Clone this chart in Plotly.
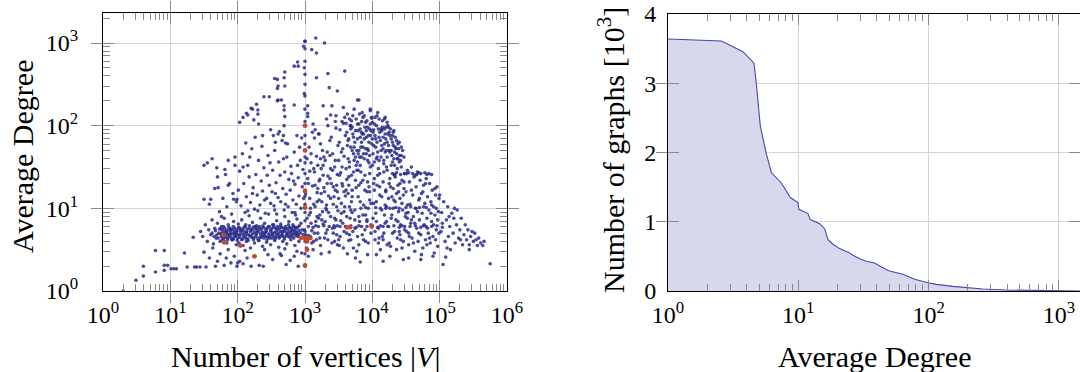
import plotly.graph_objects as go

# ---------------- data (log10 |V|, log10 average degree) ----------------
tail_pts = [(0.30,0.0),(0.49,0.13),(0.60,0.18),(0.60,0.30),(0.78,0.23),(0.78,0.49),(0.91,0.49),
            (0.91,0.31),(0.96,0.31),(0.91,0.25),(1.01,0.27),(1.05,0.27),(1.09,0.27),(1.21,0.46),
            (1.25,0.29),(1.36,0.29),(1.39,0.29),(1.44,0.29),(1.53,0.29),(1.34,0.65)]

left_cloud_pts = [(1.50,1.52),(1.55,1.55),(1.62,1.60),(1.58,1.05),(1.66,1.24),(1.70,1.38),(1.73,0.96),
                  (1.78,1.12),(1.81,1.47),(1.84,1.02),(1.88,1.30),(1.91,0.93),(1.93,1.18),(1.96,1.52),
                  (1.98,1.08),(1.69,1.49),(1.86,1.58),(1.76,0.90),(1.71,1.25),(1.86,1.28),(1.50,1.11),
                  (1.60,1.11),(1.96,1.62),(1.82,1.41),(1.94,1.11),(1.99,1.11),
                  (1.50,0.47),(1.58,0.40),(1.63,0.52),(1.70,0.36),(1.74,0.45),(1.80,0.31),(1.86,0.50),
                  (1.90,0.34),(1.95,0.42),(1.99,0.30),(1.67,0.30),(1.83,0.40)]

halo_pts = [(1.45,0.72),(1.48,0.66),(1.52,0.80),(1.55,0.60),(1.57,0.74),(1.60,0.68),(1.62,0.86),
            (1.64,0.57),(1.66,0.76),(1.68,0.64),(1.70,0.82),(1.72,0.70),(1.74,0.60),(1.76,0.78),
            (1.78,0.66),(1.80,0.88),(1.82,0.72),(1.84,0.58),(1.86,0.80),(1.88,0.68),(1.90,0.74),
            (1.92,0.62),(1.94,0.84),(1.96,0.70),(1.98,0.56),
            (2.02,0.58),(2.08,0.55),(2.13,0.60),(2.19,0.52),(2.25,0.58),(2.31,0.61),(2.37,0.54),
            (2.43,0.59),(2.49,0.56),(2.55,0.61),(2.61,0.53),(2.67,0.60),(2.73,0.57),(2.79,0.62),
            (2.85,0.55),(2.91,0.60),(2.11,0.49),(2.40,0.50),(2.70,0.51),(2.88,0.48),
            (2.01,0.81),(2.06,0.86),(2.12,0.80),(2.17,0.91),(2.22,0.83),(2.28,0.79),(2.34,0.88),
            (2.40,0.82),(2.46,0.93),(2.52,0.80),(2.58,0.85),(2.64,0.81),(2.70,0.90),(2.76,0.84),
            (2.82,0.80),(2.88,0.87),(2.94,0.82),(2.15,0.97),(2.55,0.98),(2.85,0.95),
            (2.00,0.34),(2.03,0.36),(2.08,0.33),(2.14,0.40),(2.20,0.30),(2.32,0.31),(2.38,0.30),
            (2.45,0.44),(2.52,0.38),(2.63,0.45),(2.65,0.43),(2.72,0.32),(2.78,0.37),(2.84,0.42),
            (2.90,0.30),(2.95,0.46)]

ribbon_pts = [(1.76,0.66),(1.77,0.71),(1.75,0.75),(1.79,0.63),(1.80,0.69),(1.78,0.74),(1.82,0.65),
              (1.83,0.70),(1.81,0.76),(1.85,0.62),(1.86,0.68),(1.84,0.73),(1.88,0.66),(1.89,0.72),
              (1.87,0.77),(1.91,0.64),(1.92,0.69),(1.90,0.75),(1.94,0.63),(1.95,0.71),(1.93,0.74),
              (1.97,0.67),(1.98,0.70),(1.96,0.76),(2.00,0.64),(2.01,0.68),(1.99,0.73),(2.03,0.65),
              (2.04,0.72),(2.02,0.77),(2.06,0.62),(2.07,0.69),(2.05,0.75),(2.09,0.66),(2.10,0.71),
              (2.08,0.74),(2.12,0.64),(2.13,0.70),(2.11,0.78),(2.15,0.63),(2.16,0.68),(2.14,0.75),
              (2.18,0.67),(2.19,0.72),(2.17,0.76),(2.21,0.65),(2.22,0.69),(2.20,0.74),(2.24,0.64),
              (2.25,0.71),(2.23,0.77),(2.27,0.66),(2.28,0.70),(2.26,0.75),(2.30,0.63),(2.31,0.72),
              (2.29,0.76),(2.33,0.65),(2.34,0.69),(2.32,0.78),(2.36,0.67),(2.37,0.71),(2.35,0.74),
              (2.39,0.64),(2.40,0.70),(2.38,0.77),(2.42,0.66),(2.43,0.73),(2.41,0.75),(2.45,0.65),
              (2.46,0.69),(2.44,0.76),(2.48,0.67),(2.49,0.72),(2.47,0.78),(2.51,0.64),(2.52,0.70),
              (2.50,0.75),(2.54,0.66),(2.55,0.71),(2.53,0.77),(2.57,0.65),(2.58,0.73),(2.56,0.76),
              (2.60,0.67),(2.61,0.70),(2.59,0.78),(2.63,0.66),(2.64,0.72),(2.62,0.75),(2.66,0.68),
              (2.67,0.71),(2.65,0.77),(2.69,0.65),(2.70,0.73),(2.68,0.76),(2.72,0.67),(2.73,0.70),
              (2.71,0.78),(2.75,0.66),(2.76,0.72),(2.74,0.75),(2.78,0.68),(2.79,0.71),(2.77,0.77),
              (2.81,0.66),(2.82,0.73),(2.80,0.76),(2.84,0.69),(2.85,0.72),(2.83,0.78),(2.87,0.67),
              (2.88,0.70),(2.86,0.75),(2.90,0.68),(2.91,0.73),(2.89,0.77)]

ribbon_extra_pts = [(1.62,0.70),(1.65,0.66),(1.67,0.73),(1.69,0.68),(1.71,0.64),(1.73,0.75),(1.75,0.69),
                    (1.77,0.62),(1.79,0.78),(1.81,0.67),(1.835,0.71),(1.855,0.64),(1.875,0.75),(1.895,0.69),
                    (1.915,0.62),(1.935,0.78),(1.955,0.66),(1.975,0.72),(1.995,0.61),(2.015,0.76),(2.035,0.68),
                    (2.055,0.73),(2.075,0.63),(2.095,0.77),(2.115,0.67),(2.135,0.72),(2.155,0.61),(2.175,0.79),
                    (2.195,0.66),(2.215,0.74),(2.235,0.62),(2.255,0.78),(2.275,0.68),(2.295,0.73),(2.315,0.61),
                    (2.335,0.76),(2.355,0.65),(2.375,0.79),(2.395,0.67),(2.415,0.71),(2.435,0.62),(2.455,0.78),
                    (2.475,0.64),(2.495,0.74),(2.515,0.68),(2.535,0.80),(2.555,0.63),(2.575,0.69),(2.595,0.75),
                    (2.615,0.64),(2.635,0.79),(2.655,0.67),(2.675,0.72),(2.695,0.63),(2.715,0.76),(2.735,0.69),
                    (2.755,0.80),(2.775,0.65),(2.795,0.74),(2.815,0.69),(2.835,0.64),(2.855,0.77),(2.875,0.71),
                    (2.895,0.66),(2.915,0.79),(2.935,0.70),(2.955,0.74),(2.975,0.68)]

mid_cloud_pts = [(2.01,1.22),(2.03,1.45),(2.05,1.03),(2.07,1.66),(2.09,1.30),(2.11,0.95),(2.13,1.14),
                 (2.15,1.52),(2.17,1.38),(2.19,1.07),(2.21,1.72),(2.23,1.25),(2.25,0.99),(2.27,1.41),
                 (2.29,1.16),(2.31,1.58),(2.33,1.04),(2.35,1.33),(2.37,1.21),(2.39,1.49),(2.41,0.94),
                 (2.43,1.12),(2.45,1.64),(2.47,1.28),(2.49,1.06),(2.12,1.79),(2.26,1.86),(2.36,1.75),
                 (2.44,1.40),(2.18,1.62),(2.30,0.97),(2.40,1.10),(2.08,1.50),(2.48,1.55),(2.22,1.18),
                 (2.51,1.20),(2.52,1.46),(2.54,1.03),(2.55,1.70),(2.57,1.31),(2.58,0.93),(2.60,1.13),
                 (2.61,1.56),(2.63,1.40),(2.64,1.08),(2.66,1.82),(2.67,1.24),(2.69,0.98),(2.70,1.44),
                 (2.72,1.17),(2.73,1.62),(2.75,1.02),(2.76,1.35),(2.78,1.22),(2.79,1.51),(2.81,0.95),
                 (2.82,1.10),(2.84,1.68),(2.85,1.29),(2.87,1.05),(2.88,1.88),(2.90,1.37),(2.91,1.15),
                 (2.93,1.58),(2.94,1.00),(2.96,1.26),(2.97,1.47),(2.53,1.88),(2.62,1.93),(2.68,1.60),
                 (2.74,1.78),(2.80,1.42),(2.86,0.92),(2.92,1.74),(2.98,1.12),(2.56,1.18),(2.71,1.05),
                 (2.83,1.33),(2.89,1.52),(2.95,1.85)]

col_1000_pts = [(3.0,0.30),(3.0,0.45),(3.0,0.60),(3.0,0.72),(3.0,0.85),(3.0,0.95),(3.0,1.05),(3.0,1.15),
                (3.0,1.30),(3.0,1.42),(3.0,1.55),(3.0,1.62),(3.0,1.78),(3.0,1.88),(3.0,2.05),(3.0,2.20),
                (3.0,2.36),(3.0,2.50),(3.0,2.62),(3.0,2.78),(3.0,2.93),(3.0,3.02),(3.01,0.68),(2.99,0.74)]

top_pts = [(3.16,3.06),(3.29,3.00),(3.00,3.02),(2.98,2.96),(3.10,2.92),(3.17,2.88),(2.89,2.77),
           (2.84,2.72),(2.90,2.72),(2.99,2.70),(3.17,2.58),(2.55,2.57),(2.59,2.56),(2.69,2.58),
           (2.70,2.65),(2.60,2.48),(2.59,2.45),(2.70,2.48),(3.59,2.66),(3.34,2.63),(2.99,2.39),
           (3.36,2.46),(3.48,2.42),(2.39,2.35),(2.47,2.35),(2.65,2.31),(2.59,2.30),(2.69,2.24),
           (2.69,2.19),(3.04,2.24),(3.27,2.24),(3.40,2.24),(3.80,2.31),(2.28,2.26),(2.30,2.19),
           (2.30,2.14),(2.20,2.21),(2.13,2.15),(2.08,2.10),(2.03,2.04),(2.24,2.07),(2.70,2.11),
           (3.04,2.11),(3.97,2.20),(3.99,2.09),(3.38,2.13),(3.57,2.03),(3.45,2.05),(3.84,2.05),
           (2.60,2.31),(2.84,2.25),(3.78,2.31),(2.22,2.20),(2.15,2.13),(2.31,2.02),(2.69,2.00),
           (2.49,1.95),(2.37,1.88),(2.60,1.90),(2.68,1.88),(2.56,1.80),(2.71,1.79),(3.15,1.95),
           (3.21,1.90),(3.61,2.03),(3.68,2.00),(4.19,2.10),(4.22,2.04)]

cloud_a_pts = [(3.02,0.52),(3.03,0.88),(3.04,1.36),(3.05,0.67),(3.06,1.74),(3.07,1.12),(3.08,0.95),
               (3.09,1.55),(3.10,0.73),(3.11,1.27),(3.12,2.02),(3.13,0.60),(3.14,1.44),(3.15,1.02),
               (3.16,0.84),(3.17,1.63),(3.18,1.19),(3.19,0.70),(3.20,1.90),(3.21,1.33),(3.22,0.92),
               (3.23,0.55),(3.24,1.48),(3.25,1.08),(3.26,1.70),(3.27,0.81),(3.28,1.25),(3.29,0.64),
               (3.30,1.58),(3.31,1.00),(3.32,2.08),(3.33,0.74),(3.34,1.39),(3.35,1.15),(3.36,0.47),
               (3.37,1.82),(3.38,0.90),(3.39,1.30),(3.40,0.58),(3.41,1.66),(3.42,1.05),(3.43,0.79),
               (3.44,1.50),(3.45,1.22),(3.46,1.97),(3.47,0.68),(3.48,1.41),(3.49,0.97),
               (3.01,1.18),(3.03,1.60),(3.05,0.42),(3.07,1.45),(3.09,0.82),(3.11,1.92),(3.13,1.05),
               (3.15,1.28),(3.17,0.62),(3.19,1.52),(3.21,1.10),(3.23,1.78),(3.25,0.86),(3.27,1.40),
               (3.29,1.20),(3.31,0.70),(3.33,1.68),(3.35,0.95),(3.37,1.36),(3.39,1.86),(3.41,0.76),
               (3.43,1.14),(3.45,1.58),(3.47,1.02),(3.49,1.76),(3.04,2.15),(3.14,1.85),(3.24,0.45),
               (3.34,2.00),(3.44,0.88),(3.08,1.00),(3.18,0.90),(3.28,1.62),(3.38,1.48),(3.48,0.56),
               (3.12,0.50),(3.22,1.35),(3.32,0.98),(3.42,1.26),(3.46,2.12)]

cloud_b_pts = [(3.50,1.12),(3.51,1.80),(3.52,0.66),(3.53,1.43),(3.54,0.94),(3.55,2.05),(3.56,1.27),
               (3.57,0.52),(3.58,1.63),(3.59,1.02),(3.60,1.88),(3.61,0.78),(3.62,1.35),(3.63,2.14),
               (3.64,1.18),(3.65,0.61),(3.66,1.56),(3.67,0.88),(3.68,1.96),(3.69,1.08),(3.70,1.70),
               (3.71,0.72),(3.72,1.44),(3.73,2.20),(3.74,0.98),(3.75,1.62),(3.76,1.25),(3.77,0.48),
               (3.78,1.84),(3.79,1.14),(3.80,2.02),(3.81,0.84),(3.82,1.52),(3.83,1.31),(3.84,1.92),
               (3.85,0.68),(3.86,1.74),(3.87,1.04),(3.88,2.12),(3.89,1.40),(3.90,0.92),(3.91,1.66),
               (3.92,1.20),(3.93,1.98),(3.94,0.58),(3.95,1.55),(3.96,1.10),(3.97,2.18),(3.98,0.80),
               (3.99,1.78),
               (3.50,1.58),(3.52,1.95),(3.53,0.85),(3.55,1.30),(3.56,1.72),(3.58,0.96),(3.59,2.10),
               (3.61,1.48),(3.62,0.70),(3.64,1.82),(3.65,1.38),(3.67,2.00),(3.68,0.62),(3.70,1.22),
               (3.71,1.90),(3.73,1.58),(3.74,0.76),(3.76,2.08),(3.77,1.46),(3.79,1.66),(3.80,0.90),
               (3.82,1.86),(3.83,1.00),(3.85,2.16),(3.86,1.34),(3.88,1.60),(3.89,0.74),(3.91,1.94),
               (3.92,0.86),(3.94,1.70),(3.95,1.26),(3.97,1.88),(3.98,1.06),(3.54,1.68),(3.57,2.22),
               (3.60,1.15),(3.63,1.76),(3.66,1.02),(3.69,2.06),(3.72,1.86),(3.75,1.94),(3.78,1.56),
               (3.81,2.14),(3.84,1.62),(3.87,1.90),(3.90,2.04),(3.93,1.72),(3.96,1.96),(3.99,2.10),
               (3.51,0.55),(3.63,0.45),(3.75,0.40),(3.82,0.35),(3.87,0.62),(3.93,0.44),(3.70,0.95),
               (3.58,1.20),(3.80,1.28),(3.96,1.42),(3.66,1.50)]

cloud_c_pts = [(4.00,1.52),(4.01,0.88),(4.02,1.95),(4.03,1.22),(4.04,0.62),(4.05,1.74),(4.06,1.08),
               (4.07,2.12),(4.08,1.40),(4.09,0.76),(4.10,1.86),(4.11,1.16),(4.12,0.50),(4.13,1.62),
               (4.14,0.98),(4.15,2.06),(4.16,1.32),(4.17,0.70),(4.18,1.78),(4.19,1.04),(4.20,1.98),
               (4.21,0.84),(4.22,1.46),(4.23,1.90),(4.24,1.12),(4.25,0.58),(4.26,1.68),(4.27,1.26),
               (4.28,1.84),(4.29,0.92),(4.30,1.56),(4.31,1.00),(4.32,1.94),(4.33,0.72),(4.34,1.38),
               (4.35,1.72),(4.36,1.18),(4.37,0.64),(4.38,1.60),(4.39,0.96),(4.40,1.80),(4.41,1.30),
               (4.42,0.80),(4.43,1.50),(4.44,1.06),(4.45,1.70),(4.46,0.60),(4.47,1.24),(4.48,1.42),
               (4.49,0.90),
               (4.00,1.84),(4.02,1.30),(4.03,2.02),(4.05,0.94),(4.06,1.60),(4.08,2.16),(4.09,1.48),
               (4.11,1.92),(4.12,1.00),(4.14,1.76),(4.15,0.66),(4.17,1.54),(4.18,2.08),(4.20,1.20),
               (4.21,1.70),(4.23,0.78),(4.24,1.98),(4.26,1.36),(4.27,0.54),(4.29,1.64),(4.30,1.88),
               (4.32,1.10),(4.33,1.52),(4.35,0.86),(4.36,1.82),(4.38,1.28),(4.39,1.72),(4.41,0.68),
               (4.42,1.58),(4.44,1.34),(4.45,0.98),(4.47,1.62),(4.48,0.74),(4.01,1.66),(4.04,2.10),
               (4.07,1.80),(4.10,1.58),(4.13,1.96),(4.16,1.86),(4.19,1.68),(4.22,1.80),(4.25,1.92),
               (4.28,1.52),(4.31,1.76),(4.34,1.86),(4.37,1.48),(4.40,1.64),(4.43,1.74),(4.06,0.44),
               (4.16,0.36),(4.26,0.42),(4.36,0.50),(4.46,0.38),(4.11,1.42),(4.21,1.02),(4.31,1.24),
               (4.41,1.12),(4.09,0.58),(4.19,0.82),(4.29,1.14)]

mountain_pts = [(3.62,1.92),(3.64,1.60),(3.66,2.08),(3.68,1.74),(3.70,1.98),(3.72,1.66),(3.74,1.80),
                (3.76,1.52),(3.78,2.02),(3.80,1.70),(3.82,1.96),(3.84,1.80),(3.86,2.10),(3.88,1.84),
                (3.90,1.72),(3.92,2.06),(3.94,1.88),(3.96,1.64),(3.98,1.94),(4.00,2.04),(4.02,1.76),
                (4.04,1.88),(4.06,2.00),(4.08,1.68),(4.10,2.08),(4.12,1.82),(4.14,1.94),(4.16,1.72),
                (4.18,1.96),(4.20,1.84),(4.22,1.62),(4.24,1.76),(4.26,1.88),(4.28,1.70),(4.30,1.80),
                (4.32,1.60),(4.34,1.74),(4.36,1.66),(4.38,1.78),(4.40,1.56),(3.65,1.84),(3.71,2.12),
                (3.77,1.70),(3.83,1.74),(3.89,1.98),(3.95,1.80),(4.01,1.92),(4.07,1.62),(4.13,1.70),
                (4.19,1.90),(4.25,1.70),(4.31,1.92),(4.37,1.60),(4.43,1.64),(3.87,1.66),(3.93,1.58),
                (4.05,1.84),(4.15,1.98),(4.23,2.00),(4.09,1.96),(3.97,2.02),(3.85,1.90),(3.79,1.94),
                (4.27,1.96),(4.33,1.68),(4.17,1.58),(4.03,1.56),(3.91,1.86),(3.81,1.62),(3.73,1.74)]

low_cloud_pts = [(3.06,0.92),(3.10,0.58),(3.14,0.70),(3.18,1.08),(3.22,0.64),(3.26,0.96),(3.30,0.84),
                 (3.34,0.62),(3.38,1.12),(3.42,0.70),(3.46,0.86),(3.50,0.62),(3.54,1.06),(3.58,0.72),
                 (3.62,0.90),(3.66,0.68),(3.70,1.14),(3.74,0.86),(3.78,0.66),(3.82,1.08),(3.86,0.92),
                 (3.90,0.60),(3.94,1.00),(3.98,0.70),(4.02,1.06),(4.06,0.84),(4.10,0.64),(4.14,1.14),
                 (4.18,0.92),(4.22,0.56),(4.26,1.00),(4.30,0.70),(4.34,1.08),(4.38,0.84),(4.42,0.62),
                 (4.46,1.16),(4.50,0.94),(4.54,0.70),(4.58,0.86),(3.08,0.66),(3.20,0.88),(3.32,1.04),
                 (3.44,0.60),(3.56,0.82),(3.68,0.98),(3.80,0.56),(3.92,0.84),(4.04,0.72),(4.16,0.62),
                 (4.28,0.88),(4.40,0.72),(4.52,1.04),(3.24,1.18),(3.48,1.20),(3.72,0.52),(3.96,1.20),
                 (4.20,1.22),(4.44,0.52),
                 (3.05,1.30),(3.13,1.48),(3.19,1.24),(3.27,1.52),(3.33,1.30),(3.41,1.46),(3.47,1.28),
                 (3.55,1.50),(3.61,1.22),(3.69,1.40),(3.75,1.34),(3.83,1.44),(3.89,1.22),(3.97,1.50),
                 (4.03,1.36),(4.11,1.26),(4.17,1.44),(4.25,1.30),(4.33,1.40),(4.39,1.20),(4.47,1.32),
                 (3.09,1.66),(3.23,1.60),(3.37,1.64),(3.51,1.40),(3.65,1.28),(3.79,1.46),(3.93,1.32),
                 (4.07,1.28),(4.21,1.50)]

cloud_d_pts = [(4.50,1.20),(4.51,0.72),(4.52,1.46),(4.53,0.95),(4.54,0.56),(4.55,1.32),(4.56,1.05),
               (4.57,0.82),(4.58,1.50),(4.59,0.64),(4.60,1.16),(4.61,0.90),(4.62,1.38),(4.63,0.48),
               (4.64,1.00),(4.65,1.26),(4.66,0.76),(4.67,1.44),(4.68,0.60),(4.69,1.10),(4.70,0.86),
               (4.71,1.34),(4.72,0.68),(4.73,1.18),(4.74,0.94),(4.75,0.52),(4.76,1.28),(4.77,0.80),
               (4.78,1.06),(4.79,0.62),(4.80,1.36),(4.81,0.88),(4.82,1.14),(4.83,0.70),(4.84,0.98),
               (4.85,1.30),(4.86,0.58),(4.87,1.08),(4.88,0.84),(4.89,1.22),(4.90,0.66),(4.91,1.02),
               (4.92,0.46),(4.93,0.92),(4.94,1.16),(4.95,0.74),(4.96,1.26),(4.97,0.54),(4.98,0.96),
               (4.99,1.12),
               (4.52,0.88),(4.55,0.66),(4.58,1.22),(4.61,0.58),(4.64,1.40),(4.67,0.96),(4.70,1.12),
               (4.73,0.44),(4.76,1.02),(4.79,1.30),(4.82,0.76),(4.85,0.64),(4.88,1.04),(4.91,0.80),
               (4.94,0.62),(4.97,0.86),(4.57,1.02),(4.63,0.82),(4.69,0.70),(4.75,1.20),(4.81,0.56),
               (4.87,0.94),(4.93,1.24),(4.99,0.70),(4.54,0.40),(4.72,0.38),(4.90,0.42)]

cloud_e_pts = [(5.00,1.16),(5.02,0.72),(5.03,0.95),(5.05,0.32),(5.06,1.08),(5.08,0.60),(5.09,0.41),
               (5.10,0.86),(5.12,1.02),(5.13,0.66),(5.15,0.78),(5.16,0.50),(5.18,0.94),(5.20,0.70),
               (5.21,0.88),(5.23,0.58),(5.25,0.80),(5.26,0.98),(5.28,0.64),(5.30,0.74),(5.32,0.88),
               (5.34,0.56),(5.36,0.68),(5.38,0.80),(5.40,0.62),(5.42,0.74),(5.44,0.56),(5.46,0.66),
               (5.48,0.72),(5.50,0.60),(5.52,0.70),(5.54,0.62),(5.56,0.55),(5.58,0.64),(5.61,0.58),
               (5.64,0.55),(5.66,0.60),(5.75,0.33),(5.04,0.82),(5.14,0.90),(5.22,1.00),(5.31,0.62),
               (5.11,0.52),(5.44,0.50)]

row_pts = [(3.05,0.78),(3.12,0.77),(3.20,0.78),(3.28,0.79),(3.36,0.78),(3.44,0.77),(3.52,0.78),
           (3.60,0.78),(3.68,0.79),(3.76,0.77),(3.84,0.78),(3.92,0.78),(4.00,0.79),(4.08,0.77),
           (4.16,0.78),(4.24,0.78),(4.32,0.79),(4.40,0.77),(4.48,0.78),(4.56,0.78),(4.64,0.79),
           (4.72,0.77),(4.80,0.78),(4.88,0.78),(4.96,0.79),(5.04,0.77),(3.16,0.79),(3.48,0.79),
           (3.80,0.79),(4.12,0.79),(4.44,0.79),(4.76,0.79),
           (4.30,1.42),(4.36,1.43),(4.42,1.41),(4.48,1.42),(4.54,1.43),(4.60,1.42),(4.66,1.41),
           (4.72,1.42),(4.78,1.43),(4.84,1.42),(4.88,1.41),(4.33,1.41),(4.51,1.42),(4.69,1.43),
           (4.81,1.41),
           (3.90,1.01),(4.05,1.01),(4.20,1.00),(4.35,1.01),(4.50,1.01),(4.65,1.00),(4.80,1.01),
           (4.95,1.00),(4.70,1.01),(4.40,1.00)]

red_log_v   = [1.79, 1.80, 2.04, 2.25, 3.0, 3.0, 3.0, 3.0, 3.0, 2.94, 3.0, 3.05, 3.08, 3.03, 3.03, 3.62, 3.67, 3.99]
red_log_deg = [0.68, 0.59, 0.55, 0.42, 2.0, 1.70, 1.21, 1.01, 0.31, 0.64, 0.64, 0.64, 0.64, 0.60, 0.50, 0.77, 0.77, 0.78]

# right panel: number of graphs [10^3] with average degree >= d
deg_values   = [1.0, 2.57, 3.76, 4.57, 4.76, 5.11, 5.68, 6.21, 7.41, 8.69, 9.93, 10.1, 11.86, 12.36,
                14.59, 15.92, 16.9, 18.45, 20.75, 24.5, 26.3, 29.5, 33.3, 38.5, 43.4, 50.1, 63.5,
                78.2, 98.9, 114.8, 153.8, 195.0, 261.0, 394.0, 631.0, 1445.0]
graph_counts = [3.64, 3.61, 3.455, 3.29, 3.0, 2.38, 1.985, 1.71, 1.56, 1.35, 1.277, 1.18, 1.118, 1.031,
                0.973, 0.90, 0.742, 0.675, 0.612, 0.554, 0.516, 0.467, 0.429, 0.405, 0.347, 0.289, 0.241,
                0.169, 0.12, 0.096, 0.067, 0.048, 0.029, 0.014, 0.005, 0.0]

left_x_ticks = [0, 1, 2, 3, 4, 5, 6]
left_y_ticks = [0, 1, 2, 3]
right_x_ticks = [0, 1, 2, 3]
right_y_ticks = [0, 1, 2, 3, 4]

# ---------------- figure ----------------
FONT = "Liberation Serif"
BLUE = "rgba(44,44,138,0.85)"
RED = "#c24a2c"
GRID = "#d6d6d6"
TICKC = "#8a8a8a"
TICK_SIZE = 24
TITLE_SIZE = 30

blue_groups = [tail_pts, left_cloud_pts, halo_pts, ribbon_pts, ribbon_extra_pts, mid_cloud_pts,
               col_1000_pts, top_pts, cloud_a_pts, cloud_b_pts, cloud_c_pts, mountain_pts,
               low_cloud_pts, cloud_d_pts, cloud_e_pts, row_pts]
bx, by = [], []
for g in blue_groups:
    for lv, ld in g:
        bx.append(10 ** lv)
        by.append(10 ** ld)

fig = go.Figure()
fig.add_trace(go.Scatter(x=bx, y=by, mode="markers", xaxis="x", yaxis="y",
                         marker=dict(size=3.6, color=BLUE, line=dict(width=0)), showlegend=False))
fig.add_trace(go.Scatter(x=[10 ** v for v in red_log_v], y=[10 ** d for d in red_log_deg],
                         mode="markers", xaxis="x", yaxis="y",
                         marker=dict(size=4.8, color=RED, line=dict(width=0)), showlegend=False))
fig.add_trace(go.Scatter(x=deg_values, y=graph_counts, mode="lines", xaxis="x2", yaxis="y2",
                         line=dict(color="#4646b4", width=1.1), fill="tozeroy",
                         fillcolor="#d7d8ec", showlegend=False))
# empty traces that carry the minor-tick overlay axes
for xa, ya in [("x3", "y"), ("x", "y3"), ("x4", "y2")]:
    fig.add_trace(go.Scatter(x=[], y=[], mode="markers", xaxis=xa, yaxis=ya, showlegend=False,
                             hoverinfo="skip"))


def pow_text(e):
    return "10<sup>%d</sup>" % e


def minor_vals(lo, hi):
    return [m * 10 ** k for k in range(lo, hi) for m in range(2, 10)]


def major_axis():
    return dict(showline=True, linecolor="black", linewidth=1, mirror="allticks",
                ticks="inside", ticklen=11, tickcolor=TICKC, tickwidth=1, automargin=False,
                showgrid=True, gridcolor=GRID, gridwidth=1, zeroline=False,
                tickfont=dict(family=FONT, size=TICK_SIZE, color="black"))


def minor_axis(overlay, anchor, rng, vals, side):
    return dict(type="log", overlaying=overlay, anchor=anchor, range=rng, side=side,
                tickmode="array", tickvals=vals, showticklabels=False, ticks="inside",
                ticklen=7, tickcolor=TICKC, tickwidth=1, mirror="ticks", showline=False,
                showgrid=False, zeroline=False, automargin=False)


fig.update_layout(
    width=1080, height=372, margin=dict(l=0, r=0, t=0, b=0),
    paper_bgcolor="white", plot_bgcolor="white",
    font=dict(family=FONT, size=TICK_SIZE, color="black"),
    xaxis=dict(type="log", domain=[103 / 1080, 507 / 1080], range=[0, 6], anchor="y",
               tickmode="array", tickvals=[10 ** e for e in left_x_ticks],
               ticktext=[pow_text(e) for e in left_x_ticks], ticklabelstandoff=2, **major_axis()),
    yaxis=dict(type="log", domain=[1 - 291 / 372, 1 - 13 / 372], range=[0, 3.363], anchor="x",
               tickmode="array", tickvals=[10 ** e for e in left_y_ticks],
               ticktext=[pow_text(e) for e in left_y_ticks], ticklabelstandoff=19, **major_axis()),
    xaxis2=dict(type="log", domain=[668 / 1080, 1.0], range=[0, 3.162], anchor="y2",
                tickmode="array", tickvals=[10 ** e for e in right_x_ticks],
                ticktext=[pow_text(e) for e in right_x_ticks], ticklabelstandoff=2, **major_axis()),
    yaxis2=dict(domain=[1 - 291 / 372, 1 - 14 / 372], range=[0, 4], anchor="x2",
                tickmode="array", tickvals=right_y_ticks, ticklabelstandoff=6, **major_axis()),
    xaxis3=minor_axis("x", "y", [0, 6], minor_vals(0, 6), "bottom"),
    yaxis3=minor_axis("y", "x", [0, 3.363], minor_vals(0, 4), "left"),
    xaxis4=minor_axis("x2", "y2", [0, 3.162], minor_vals(0, 4), "bottom"),
    annotations=[
        dict(text="Number of vertices |<i>V</i>|", x=305 / 1080, y=1 - 356 / 372, xref="paper", yref="paper",
             showarrow=False, xanchor="center", yanchor="middle", font=dict(family=FONT, size=TITLE_SIZE)),
        dict(text="Average Degree", x=22 / 1080, y=1 - 157 / 372, xref="paper", yref="paper",
             showarrow=False, textangle=-90, xanchor="center", yanchor="middle",
             font=dict(family=FONT, size=TITLE_SIZE)),
        dict(text="Average Degree", x=874 / 1080, y=1 - 356 / 372, xref="paper", yref="paper",
             showarrow=False, xanchor="center", yanchor="middle", font=dict(family=FONT, size=TITLE_SIZE)),
        dict(text="Number of graphs [10<sup>3</sup>]", x=611 / 1080, y=1 - 150 / 372, xref="paper",
             yref="paper", showarrow=False, textangle=-90, xanchor="center", yanchor="middle",
             font=dict(family=FONT, size=TITLE_SIZE)),
    ],
)

fig.write_html("out.html", config={"displayModeBar": False},
               post_script="document.body.style.margin='0';document.body.style.padding='0';"
                           "document.documentElement.style.overflow='hidden';")
